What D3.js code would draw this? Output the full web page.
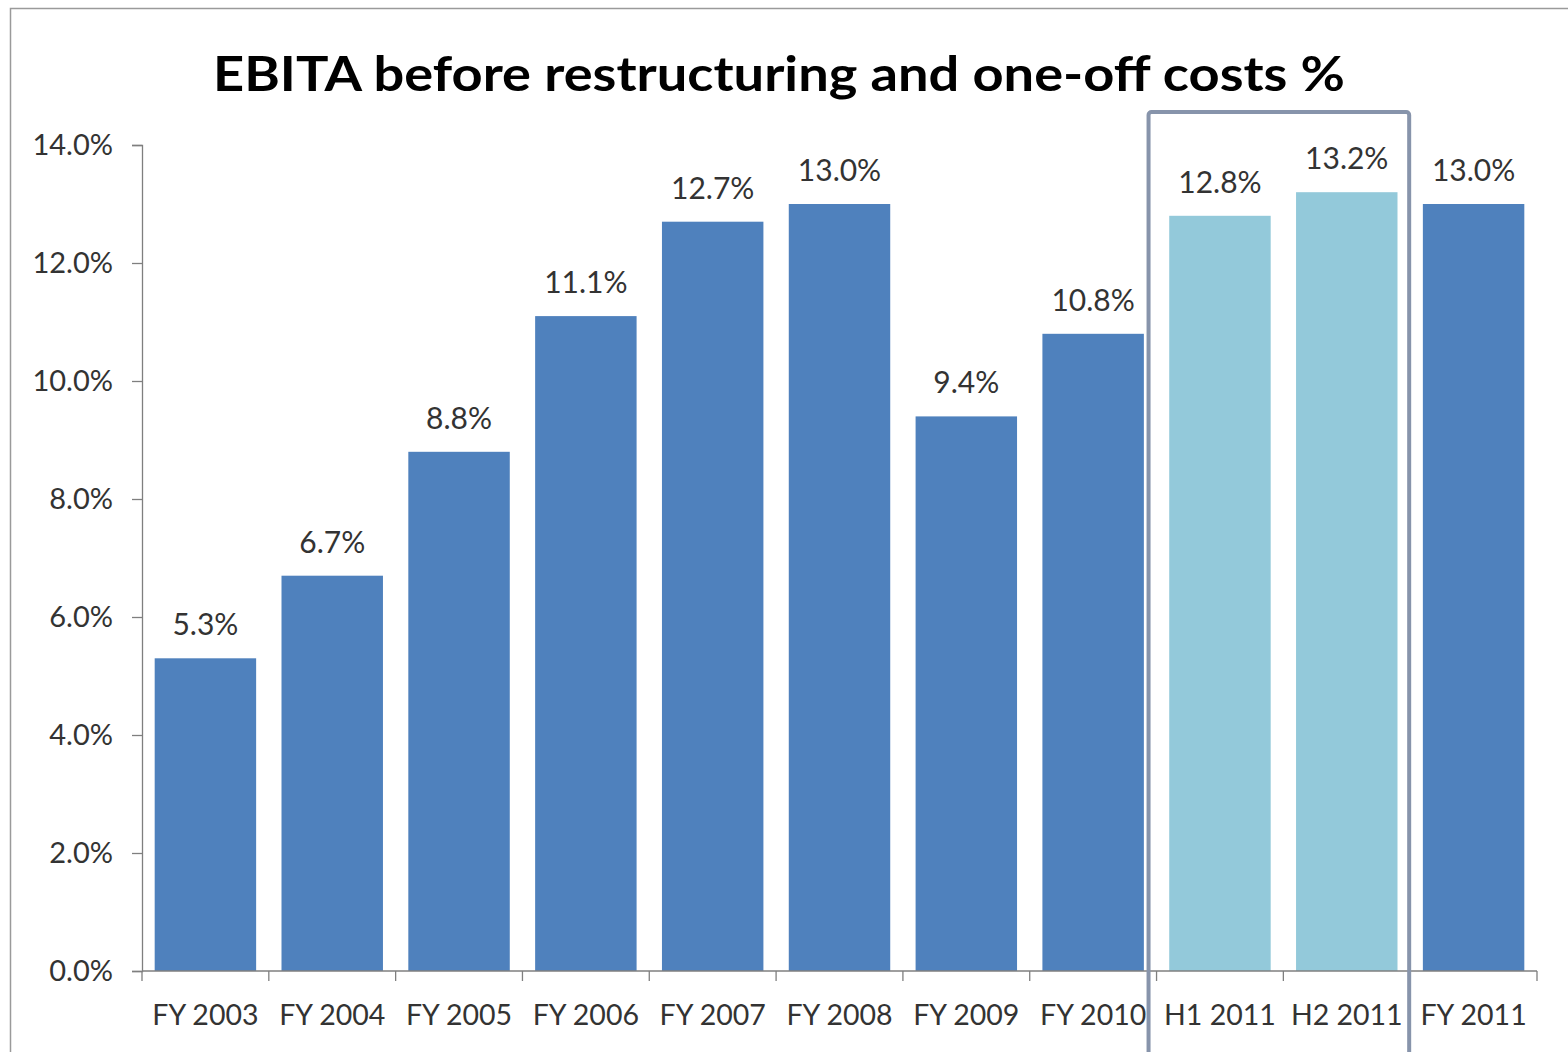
<!DOCTYPE html>
<html>
<head>
<meta charset="utf-8">
<script src="https://cdn.jsdelivr.net/npm/d3@7"></script>
<style>
  html, body { margin: 0; padding: 0; background: #fff; }
  svg { display: block; }
  text { font-family: Lato, "Open Sans", sans-serif; }
</style>
</head>
<body>
<svg id="chart" width="1568" height="1052"></svg>
<script>
// EBITA margin before restructuring and one-off costs, by period
const categories = ["FY 2003", "FY 2004", "FY 2005", "FY 2006", "FY 2007", "FY 2008",
                    "FY 2009", "FY 2010", "H1 2011", "H2 2011", "FY 2011"];
const values = [5.3, 6.7, 8.8, 11.1, 12.7, 13.0, 9.4, 10.8, 12.8, 13.2, 13.0];
const halfYear = ["H1 2011", "H2 2011"];
const yTicks = [0, 2, 4, 6, 8, 10, 12, 14];
const titleText = "EBITA before restructuring and one-off costs %";

const svg = d3.select("#chart");
const W = 1568, H = 1052;
const plot = { left: 142, right: 1537, top: 145, bottom: 971 };

// Outer chart frame
svg.append("rect")
  .attr("x", 10.5).attr("y", 8.5)
  .attr("width", W + 20).attr("height", H + 20)
  .attr("fill", "#fff").attr("stroke", "#9a9a9a").attr("stroke-width", 1.5);

const x = d3.scaleBand()
  .domain(categories)
  .range([plot.left, plot.right])
  .paddingInner(0.2)
  .paddingOuter(0.1);

const y = d3.scaleLinear()
  .domain([0, 14])
  .range([plot.bottom, plot.top]);

// Title
svg.append("text")
  .attr("x", 779).attr("y", 91)
  .attr("text-anchor", "middle")
  .attr("font-size", 48).attr("font-weight", 700)
  .attr("fill", "#000")
  .attr("textLength", 1132).attr("lengthAdjust", "spacingAndGlyphs")
  .text(titleText);

// Bars
svg.append("g").selectAll("rect")
  .data(categories)
  .join("rect")
  .attr("x", d => x(d))
  .attr("y", (d, i) => y(values[i]))
  .attr("width", x.bandwidth())
  .attr("height", (d, i) => y(0) - y(values[i]))
  .attr("fill", d => halfYear.includes(d) ? "#93c9da" : "#4f81bd");

// Value labels
svg.append("g").selectAll("text")
  .data(categories)
  .join("text")
  .attr("x", d => x(d) + x.bandwidth() / 2)
  .attr("y", (d, i) => y(values[i]) - 23)
  .attr("text-anchor", "middle")
  .attr("font-size", 30)
  .attr("fill", "#333")
  .text((d, i) => values[i].toFixed(1) + "%");

// Y axis
const yAxis = svg.append("g")
  .attr("transform", `translate(${plot.left},0)`)
  .call(d3.axisLeft(y).tickValues(yTicks).tickSize(10).tickPadding(19)
    .tickFormat(d => d.toFixed(1) + "%"));
yAxis.select(".domain").attr("stroke", "#7f7f7f").attr("stroke-width", 1.3);
yAxis.selectAll(".tick line").attr("stroke", "#7f7f7f").attr("stroke-width", 1.3);
yAxis.selectAll(".tick text")
  .attr("font-size", 29).attr("fill", "#333")
  .style("font-family", "Lato, 'Open Sans', sans-serif");

// X axis with ticks at category boundaries
const xAxisG = svg.append("g")
  .attr("transform", `translate(0,${plot.bottom})`);
xAxisG.append("line")
  .attr("x1", plot.left).attr("x2", plot.right)
  .attr("stroke", "#7f7f7f").attr("stroke-width", 1.3);
const boundaries = d3.range(categories.length + 1)
  .map(i => plot.left + i * (plot.right - plot.left) / categories.length);
xAxisG.selectAll("line.tick")
  .data(boundaries)
  .join("line")
  .attr("class", "tick")
  .attr("x1", d => d).attr("x2", d => d)
  .attr("y1", 0).attr("y2", 10)
  .attr("stroke", "#7f7f7f").attr("stroke-width", 1.3);
xAxisG.selectAll("text")
  .data(categories)
  .join("text")
  .attr("x", d => x(d) + x.bandwidth() / 2)
  .attr("y", 54)
  .attr("text-anchor", "middle")
  .attr("font-size", 28.5).attr("fill", "#333")
  .text(d => d);

// Highlight frame around the half-year results
const i0 = categories.indexOf(halfYear[0]);
const i1 = categories.indexOf(halfYear[halfYear.length - 1]);
const hx0 = boundaries[i0] - 8, hx1 = boundaries[i1 + 1] - 1;
svg.append("rect")
  .attr("x", hx0).attr("y", 112)
  .attr("width", hx1 - hx0).attr("height", H)
  .attr("rx", 3)
  .attr("fill", "none").attr("stroke", "#8794ab").attr("stroke-width", 4);
</script>
</body>
</html>
